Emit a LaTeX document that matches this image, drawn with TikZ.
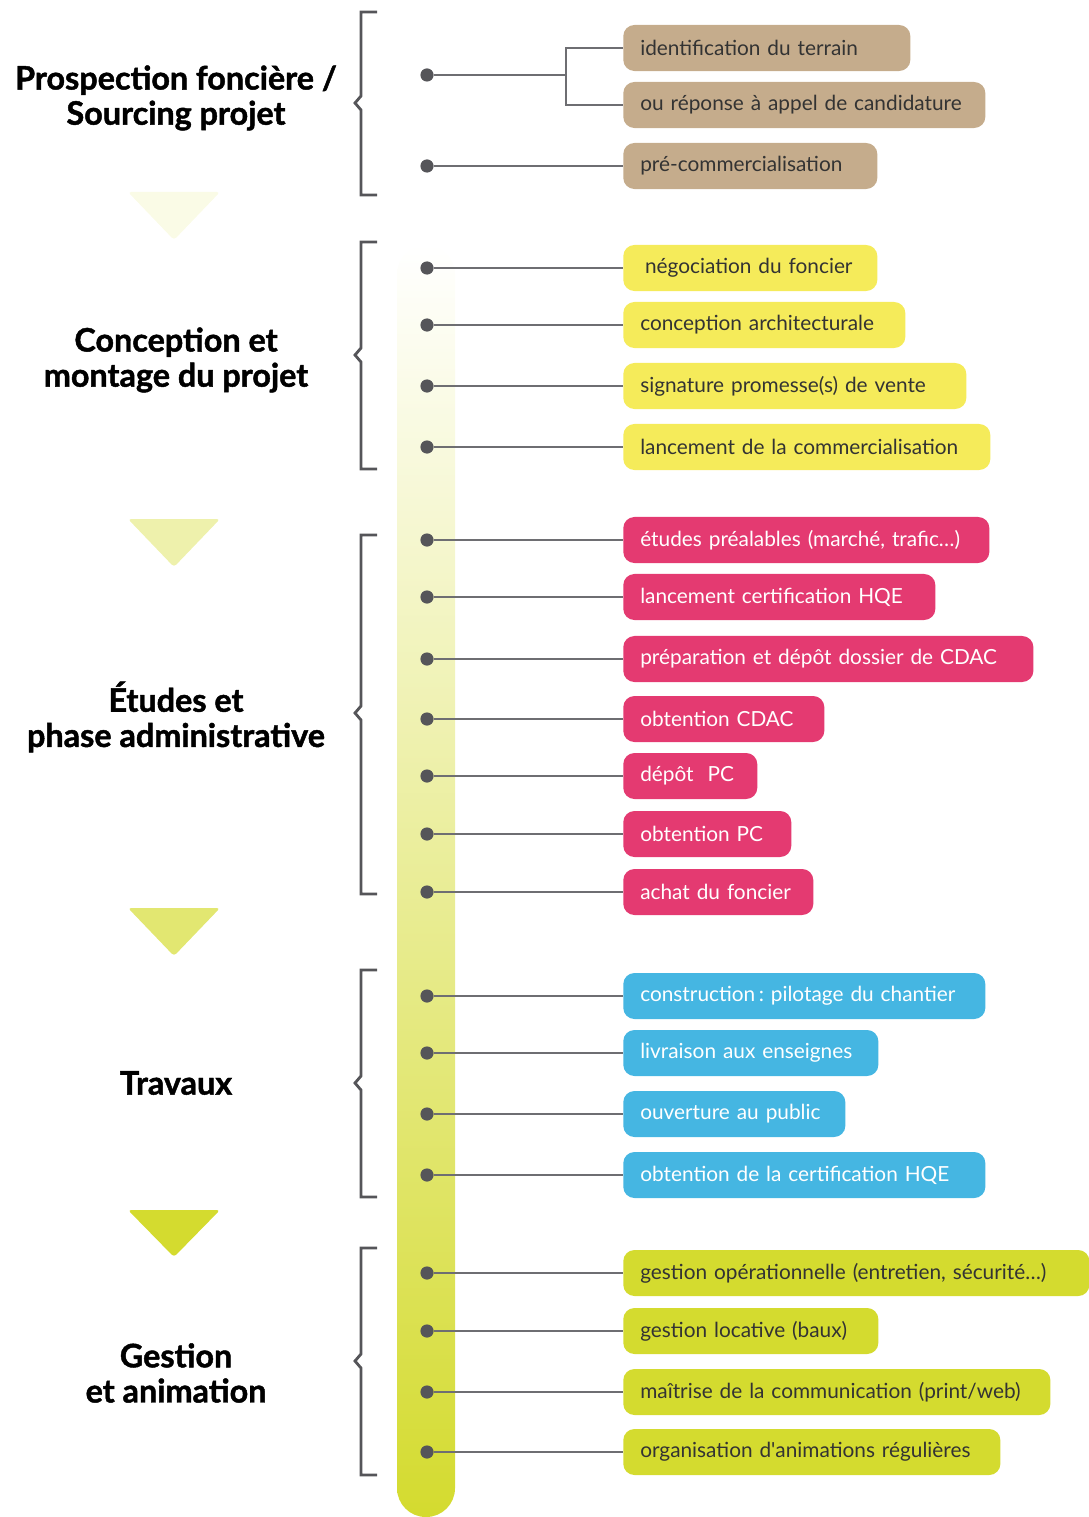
\documentclass[tikz,border=0pt]{standalone}
\usepackage{fontspec}
\setmainfont{Lato}
\newfontfamily\titrefont{Lato}[BoldFeatures={FakeBold=1.4}]
\usepackage{tikz}
\frenchspacing

\definecolor{sable}{HTML}{C5AC8C}
\definecolor{jaune}{HTML}{F5EB5A}
\definecolor{rose}{HTML}{E43A71}
\definecolor{bleu}{HTML}{45B6E2}
\definecolor{anis}{HTML}{D4DB2F}
\definecolor{gris}{HTML}{555559}

\tikzset{
  etape/.style={anchor=west, rounded corners=0.28cm, minimum height=1.15cm,
    inner xsep=0.425cm, inner ysep=0pt, align=left, text=black!80,
    font=\fontsize{14.8}{16}\selectfont},
  titre/.style={align=center, font=\titrefont\bfseries\fontsize{23}{25}\selectfont},
  puce/.style={circle, fill=gris, inner sep=0pt, minimum size=0.33cm},
  lien/.style={draw=gris!85, line width=1.3pt},
  crochet/.style={draw=gris, line width=2pt},
  fleche/.style={rounded corners=0.08cm}
}

\begin{document}
\begin{tikzpicture}[x=0.025cm,y=-0.025cm]
\useasboundingbox (0,0) rectangle (1089,1517);

\shade[top color=white, bottom color=anis, rounded corners=0.72cm] (397,245) rectangle (455,1517);

\fill[fleche, anis!12] (128,192) -- (220,192) -- (174,240) -- cycle;
\fill[fleche, anis!40] (128,519) -- (220,519) -- (174,567) -- cycle;
\fill[fleche, anis!68] (128,908) -- (220,908) -- (174,956) -- cycle;
\fill[fleche, anis] (128,1210) -- (220,1210) -- (174,1257) -- cycle;

\draw[crochet] (377,12) -- (361,12) -- (361,96) -- (355,103) -- (361,110) -- (361,195) -- (377,195);
\draw[crochet] (377,242) -- (361,242) -- (361,348) -- (355,355) -- (361,362) -- (361,469) -- (377,469);
\draw[crochet] (377,535) -- (361,535) -- (361,706) -- (355,713) -- (361,720) -- (361,894) -- (377,894);
\draw[crochet] (377,970) -- (361,970) -- (361,1076) -- (355,1083) -- (361,1090) -- (361,1197) -- (377,1197);
\draw[crochet] (377,1248) -- (361,1248) -- (361,1354) -- (355,1361) -- (361,1368) -- (361,1475) -- (377,1475);

\node[titre] (prospection) at (176,98) {Prospection foncière /\\Sourcing projet};
\node[titre] (conception) at (176,360) {Conception et\\montage du projet};
\node[titre] (etudes) at (176,717) {Études et\\phase administrative};
\node[titre] (travaux) at (176,1083) {Travaux};
\node[titre] (gestion) at (176,1373) {Gestion\\et animation};

\node[etape, fill=sable, text width=6.325cm] (terrain) at (623,48) {identification du terrain};
\node[etape, fill=sable, text width=8.2cm] (appel) at (623,105) {ou réponse à appel de candidature};
\node[etape, fill=sable, text width=5.5cm] (precom) at (623,166) {pré-commercialisation};
\node[puce] (p1) at (427,75) {};
\node[puce] (p2) at (427,166) {};
\coordinate (fourche) at (566,75);
\draw[lien] (p1) -- (fourche);
\draw[lien] (terrain.west) -| (fourche) |- (appel.west);
\draw[lien] (p2) -- (precom);

\node[etape, fill=jaune, text width=5.5cm] (negociation) at (623,268) {\hspace{0.12cm}négociation du foncier};
\node[etape, fill=jaune, text width=6.2cm] (archi) at (623,325) {conception architecturale};
\node[etape, fill=jaune, text width=7.725cm] (promesse) at (623,386) {signature promesse(s) de vente};
\node[etape, fill=jaune, text width=8.325cm] (lancement) at (623,447) {lancement de la commercialisation};
\node[puce] (p3) at (427,268) {};
\node[puce] (p4) at (427,325) {};
\node[puce] (p5) at (427,386) {};
\node[puce] (p6) at (427,447) {};
\draw[lien] (p3) -- (negociation);
\draw[lien] (p4) -- (archi);
\draw[lien] (p5) -- (promesse);
\draw[lien] (p6) -- (lancement);

\node[etape, fill=rose, text=white, text width=8.3cm] (prealables) at (623,540) {études préalables (marché, trafic…)};
\node[etape, fill=rose, text=white, text width=6.95cm] (hqe) at (623,597) {lancement certification HQE};
\node[etape, fill=rose, text=white, text width=9.4cm] (dossier) at (623,659) {préparation et dépôt dossier de CDAC};
\node[etape, fill=rose, text=white, text width=4.175cm] (cdac) at (623,719) {obtention CDAC};
\node[etape, fill=rose, text=white, text width=2.5cm] (depot) at (623,776) {dépôt\ \ PC};
\node[etape, fill=rose, text=white, text width=3.35cm] (pc) at (623,834) {obtention PC};
\node[etape, fill=rose, text=white, text width=3.9cm] (achat) at (623,892) {achat du foncier};
\node[puce] (p7) at (427,540) {};
\node[puce] (p8) at (427,597) {};
\node[puce] (p9) at (427,659) {};
\node[puce] (p10) at (427,719) {};
\node[puce] (p11) at (427,776) {};
\node[puce] (p12) at (427,834) {};
\node[puce] (p13) at (427,892) {};
\draw[lien] (p7) -- (prealables);
\draw[lien] (p8) -- (hqe);
\draw[lien] (p9) -- (dossier);
\draw[lien] (p10) -- (cdac);
\draw[lien] (p11) -- (depot);
\draw[lien] (p12) -- (pc);
\draw[lien] (p13) -- (achat);

\node[etape, fill=bleu, text=white, text width=8.2cm] (chantier) at (623,996) {construction\,: pilotage du chantier};
\node[etape, fill=bleu, text=white, text width=5.525cm] (livraison) at (623,1053) {livraison aux enseignes};
\node[etape, fill=bleu, text=white, text width=4.7cm] (ouverture) at (623,1114) {ouverture au public};
\node[etape, fill=bleu, text=white, text width=8.2cm] (certif) at (623,1175) {obtention de la certification HQE};
\node[puce] (p14) at (427,996) {};
\node[puce] (p15) at (427,1053) {};
\node[puce] (p16) at (427,1114) {};
\node[puce] (p17) at (427,1175) {};
\draw[lien] (p14) -- (chantier);
\draw[lien] (p15) -- (livraison);
\draw[lien] (p16) -- (ouverture);
\draw[lien] (p17) -- (certif);

\node[etape, fill=anis, text width=10.8cm] (operation) at (623,1273) {gestion opérationnelle (entretien, sécurité…)};
\node[etape, fill=anis, text width=5.525cm] (locative) at (623,1331) {gestion locative (baux)};
\node[etape, fill=anis, text width=9.825cm] (communication) at (623,1392) {maîtrise de la communication (print/web)};
\node[etape, fill=anis, text width=8.575cm] (animations) at (623,1452) {organisation d\textquotesingle animations régulières};
\node[puce] (p18) at (427,1273) {};
\node[puce] (p19) at (427,1331) {};
\node[puce] (p20) at (427,1392) {};
\node[puce] (p21) at (427,1452) {};
\draw[lien] (p18) -- (operation);
\draw[lien] (p19) -- (locative);
\draw[lien] (p20) -- (communication);
\draw[lien] (p21) -- (animations);

\end{tikzpicture}
\end{document}
